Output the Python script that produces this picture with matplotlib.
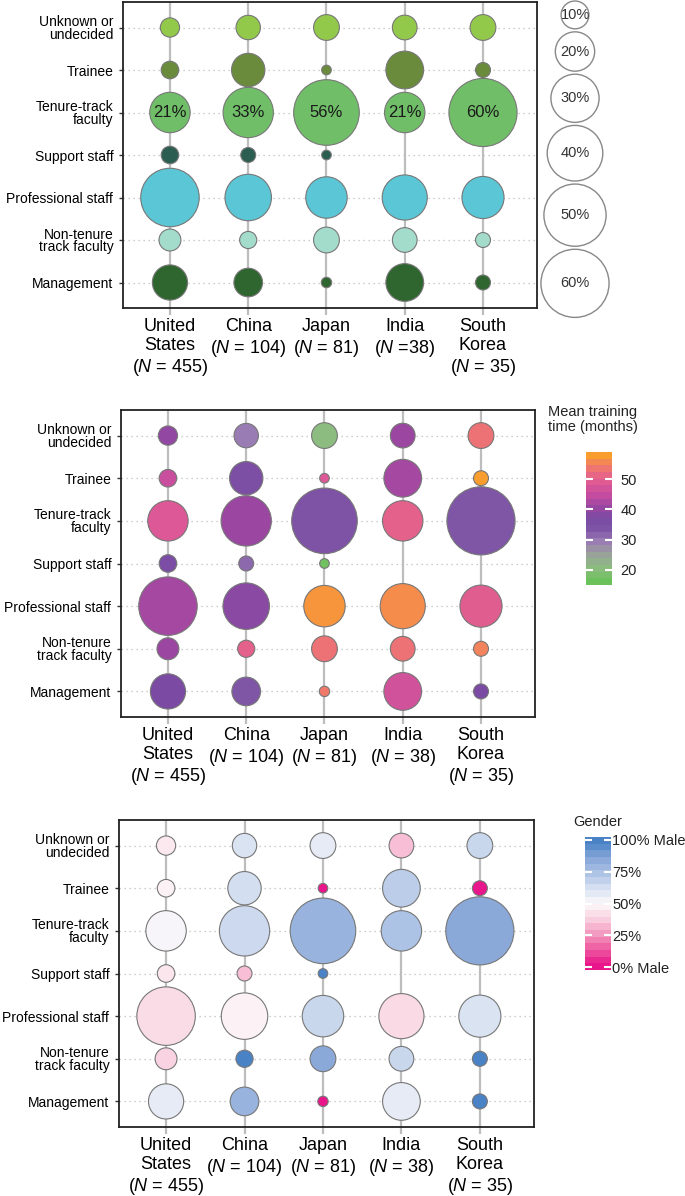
import matplotlib
matplotlib.use("Agg")
import matplotlib.pyplot as plt
import numpy as np
from matplotlib.colors import LinearSegmentedColormap, Normalize
from matplotlib.cm import ScalarMappable

plt.rcParams['font.family'] = ['Liberation Sans', 'DejaVu Sans']
plt.rcParams['mathtext.fontset'] = 'custom'
plt.rcParams['mathtext.it'] = 'Liberation Sans:italic'
plt.rcParams['mathtext.rm'] = 'Liberation Sans'

# --- data -------------------------------------------------------------
roles = ["Unknown or\nundecided", "Trainee", "Tenure-track\nfaculty", "Support staff",
         "Professional staff", "Non-tenure\ntrack faculty", "Management"]

countries = ["United States", "China", "Japan", "India", "South Korea"]
labels_top = ["United\nStates\n($N$ = 455)", "China\n($N$ = 104)", "Japan\n($N$ = 81)",
              "India\n($N$ =38)", "South\nKorea\n($N$ = 35)"]
labels_rest = ["United\nStates\n($N$ = 455)", "China\n($N$ = 104)", "Japan\n($N$ = 81)",
               "India\n($N$ = 38)", "South\nKorea\n($N$ = 35)"]

# share of respondents (%) per role, one list per country (roles order above)
share_us = [4.8, 4.0, 21.1, 4.0, 44.2, 6.2, 16.0]
share_china = [7.7, 14.4, 32.7, 2.9, 27.9, 3.8, 10.6]
share_japan = [8.6, 1.2, 55.6, 1.2, 22.2, 8.6, 1.4]
share_india = [7.9, 18.4, 21.1, 0, 26.3, 7.9, 18.4]
share_korea = [8.6, 2.9, 60.0, 0, 22.9, 2.9, 2.9]

# mean training time (months)
months_us = [40, 46, 49, 36, 42, 41, 37]
months_china = [29, 35, 41, 31, 39, 51, 33]
months_japan = [20, 49, 34, 16, 58, 54, 55]
months_india = [41, 42, 51, np.nan, 57, 54, 47]
months_korea = [54, 59, 33, np.nan, 50, 56, 37]

# gender (% male)
male_us = [45, 48, 52, 44, 41, 38, 57]
male_china = [62, 64, 66, 33, 48, 100, 82]
male_japan = [57, 0, 82, 100, 67, 86, 0]
male_india = [33, 71, 75, np.nan, 40, 67, 57]
male_korea = [67, 0, 86, np.nan, 62, 100, 100]

size_legend = [10, 20, 30, 40, 50, 60]

role_colors = ["#93c94b", "#6a8a3c", "#70bf68", "#2b5e50", "#5bc6d6", "#a3dccb", "#2f662f"]

shares = np.array([share_us, share_china, share_japan, share_india, share_korea], dtype=float)
months = np.array([months_us, months_china, months_japan, months_india, months_korea], dtype=float)
males = np.array([male_us, male_china, male_japan, male_india, male_korea], dtype=float)

W, H = 685, 1196
fig = plt.figure(figsize=(W / 100, H / 100), dpi=100)


def px_axes(left, top, right, bottom):
    return fig.add_axes([left / W, 1 - bottom / H, (right - left) / W, (bottom - top) / H])


S_PER_PCT = 40.1  # marker area (pt^2) per percent
EDGE = "#777777"


def draw_panel(ax, colors, xlabels):
    for i in range(len(countries)):
        ax.axvline(i, color="#bdbdbd", lw=1.6, zorder=0)
    for j in range(len(roles)):
        ax.axhline(j, color="#bdbdbd", lw=0.9, ls=(0, (1, 3)), zorder=0)
    xs, ys = np.meshgrid(np.arange(len(countries)), np.arange(len(roles)), indexing="ij")
    mask = shares > 0
    ax.scatter(xs[mask], ys[mask], s=shares[mask] * S_PER_PCT, c=colors[mask],
               edgecolors=EDGE, linewidths=0.8, zorder=3)
    ax.set_xlim(-0.6, 4.69)
    ax.set_ylim(6.6, -0.6)
    ax.set_xticks(range(len(countries)))
    ax.set_xticklabels(xlabels, fontsize=13, linespacing=1.2)
    ax.set_yticks(range(len(roles)))
    ax.set_yticklabels(roles, fontsize=10, linespacing=0.9)
    ax.tick_params(axis="x", length=5, width=1.6, color="#bdbdbd", pad=2)
    ax.tick_params(axis="y", length=3, width=1, color="#333333", pad=4)
    for sp in ax.spines.values():
        sp.set_linewidth(1.3)
        sp.set_color("#222222")


# --- panel 1: role share ----------------------------------------------
ax1 = px_axes(123, 2, 537, 308)
c1 = np.empty(shares.shape, dtype=object)
for i in range(shares.shape[0]):
    for j in range(shares.shape[1]):
        c1[i, j] = role_colors[j]
draw_panel(ax1, c1, labels_top)
for i in range(len(countries)):
    ax1.text(i, 2, f"{round(shares[i, 2])}%", ha="center", va="center",
             fontsize=12, color="#1a1a1a", zorder=4)

# size legend
lax = px_axes(540, 0, 615, 310)
lax.set_xlim(0, 75)
lax.set_ylim(310, 0)
lax.axis("off")
radii = 4.4 * np.sqrt(size_legend)
ypos = []
y = 1
for k, r in enumerate(radii):
    y = y + r if k == 0 else y + radii[k - 1] + 3 + r
    ypos.append(y)
lax.scatter([35] * len(size_legend), ypos, s=np.array(size_legend) * S_PER_PCT,
            facecolors="white", edgecolors="#888888", linewidths=1, clip_on=False)
for v, yy in zip(size_legend, ypos):
    lax.text(35, yy, f"{v}%", ha="center", va="center", fontsize=10.5, color="#333333")

# --- panel 2: training time -------------------------------------------
time_stops = [(15, "#6cc25a"), (20, "#8cbc80"), (25, "#9b9e9c"), (29, "#9a7cb4"),
              (33, "#7f55a6"), (37, "#7a4aa3"), (41, "#9a47a2"), (45, "#c24ba0"),
              (49, "#dd5896"), (53, "#ea6a80"), (56, "#f3825e"), (59, "#f99d2e")]
tmin, tmax = 15, 59
time_cmap = LinearSegmentedColormap.from_list(
    "time", [((v - tmin) / (tmax - tmin), c) for v, c in time_stops])
time_norm = Normalize(tmin, tmax)

ax2 = px_axes(121, 410, 535, 717)
c2 = np.empty(months.shape, dtype=object)
for i in range(months.shape[0]):
    for j in range(months.shape[1]):
        c2[i, j] = time_cmap(time_norm(months[i, j])) if not np.isnan(months[i, j]) else "none"
draw_panel(ax2, c2, labels_rest)

cax2 = px_axes(586, 452, 612, 585)
cb2 = fig.colorbar(ScalarMappable(time_norm, time_cmap.resampled(20)), cax=cax2)
cb2.outline.set_visible(False)
cb2.set_ticks([20, 30, 40, 50])
cax2.tick_params(axis="y", left=True, right=True, direction="in", length=5, width=1.5,
                 color="white", labelsize=10.5, labelcolor="#222222", pad=6)
fig.text(548 / W, 1 - 405 / H, "Mean training\ntime (months)", ha="left", va="top",
         fontsize=10.5, color="#222222", linespacing=1.05)

# --- panel 3: gender ---------------------------------------------------
gender_stops = [(0, "#e8168a"), (12.5, "#ee5aa0"), (25, "#f39ac0"), (37.5, "#f9d2e0"),
                (50, "#fcf8fa"), (62.5, "#d8e2f2"), (75, "#adc3e5"), (87.5, "#86a6d8"),
                (100, "#4a82c6")]
gmin, gmax = -2, 102
gender_cmap = LinearSegmentedColormap.from_list(
    "gender", [((v - gmin) / (gmax - gmin), c) for v, c in
               [(gmin, gender_stops[0][1])] + gender_stops + [(gmax, gender_stops[-1][1])]])
gender_norm = Normalize(gmin, gmax)

ax3 = px_axes(119, 820, 534, 1127)
c3 = np.empty(males.shape, dtype=object)
for i in range(males.shape[0]):
    for j in range(males.shape[1]):
        c3[i, j] = gender_cmap(gender_norm(males[i, j])) if not np.isnan(males[i, j]) else "none"
draw_panel(ax3, c3, labels_rest)

cax3 = px_axes(585, 837, 611, 970)
cb3 = fig.colorbar(ScalarMappable(gender_norm, gender_cmap.resampled(20)), cax=cax3)
cb3.outline.set_visible(False)
cb3.set_ticks([0, 25, 50, 75, 100])
cb3.set_ticklabels(["0% Male", "25%", "50%", "75%", "100% Male"])
cax3.tick_params(axis="y", left=True, right=True, direction="in", length=5, width=1.5,
                 color="white", labelsize=10.5, labelcolor="#222222", pad=1)
fig.text(573 / W, 1 - 815 / H, "Gender", ha="left", va="top",
         fontsize=10.5, color="#222222")

fig.savefig("out.png", dpi=100)
